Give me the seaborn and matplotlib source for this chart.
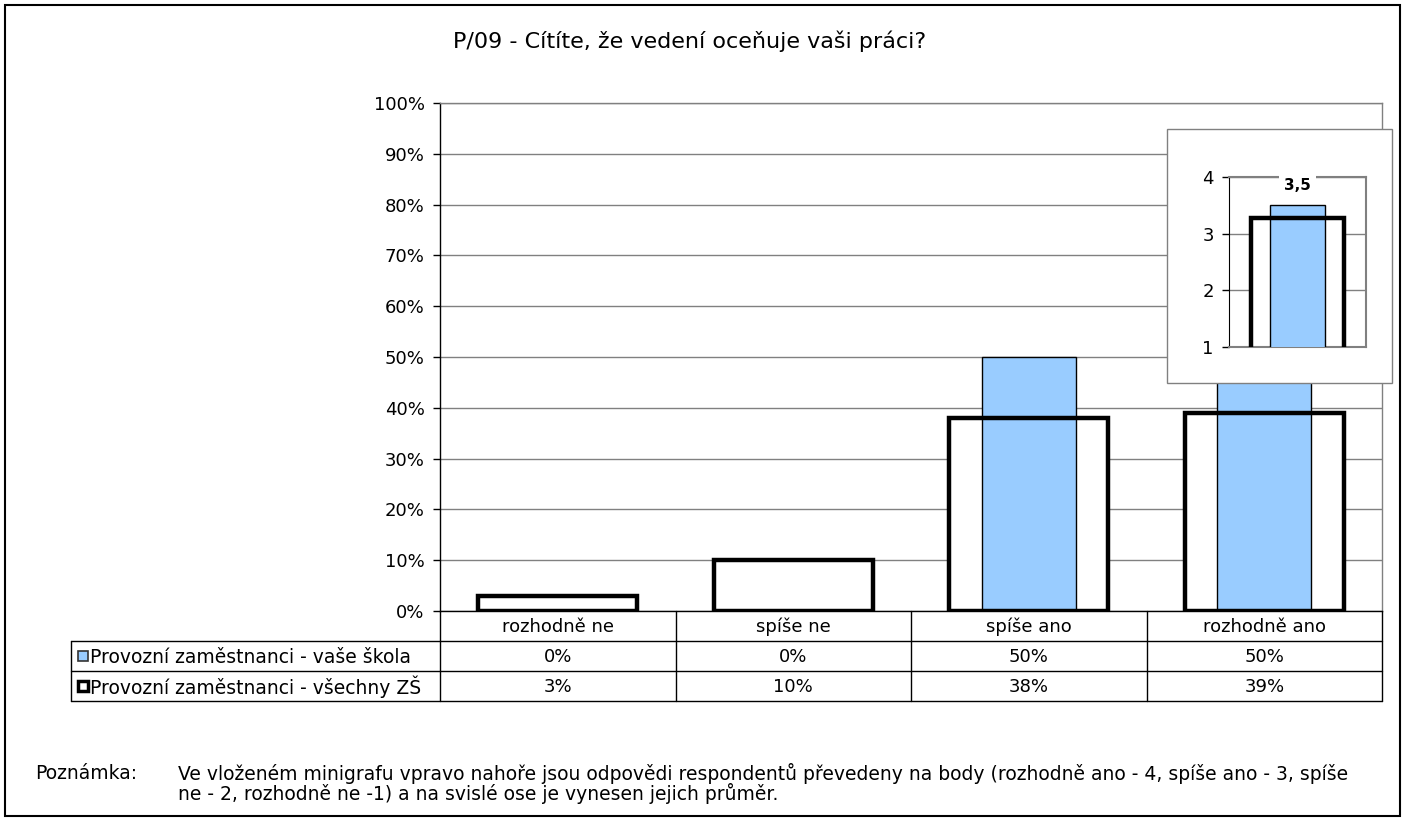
import matplotlib
matplotlib.use("Agg")
import matplotlib.pyplot as plt
import matplotlib.transforms as mtransforms
from matplotlib.patches import Rectangle
from matplotlib.lines import Line2D
import pandas as pd
import seaborn as sns

# data
categories = ["rozhodně ne", "spíše ne", "spíše ano", "rozhodně ano"]
school_pct = [0, 0, 50, 50]
all_pct = [3, 10, 38, 39]
series_names = ["Provozní zaměstnanci - vaše škola", "Provozní zaměstnanci - všechny ZŠ"]
school_mean = 3.5
all_mean = 3.28
title = "P/09 - Cítíte, že vedení oceňuje vaši práci?"
note_label = "Poznámka:"
note_text = ("Ve vloženém minigrafu vpravo nahoře jsou odpovědi respondentů převedeny na body (rozhodně ano - 4, spíše ano - 3, spíše\n"
             "ne - 2, rozhodně ne -1) a na svislé ose je vynesen jejich průměr.")

sns.set_style("white")
plt.rcParams["font.family"] = ["DejaVu Sans"]
plt.rcParams["text.color"] = "black"
plt.rcParams["ytick.color"] = "black"

W, H = 1405, 821
BLUE = "#99CCFF"
GRID = "#808080"
FS = 13


def fx(px):
    return px / W


def fy(px):
    return 1 - px / H


df = pd.DataFrame({"cat": categories, "school": school_pct, "all": all_pct})

fig = plt.figure(figsize=(W / 100, H / 100), dpi=100)
fig.patch.set_facecolor("white")

# outer frame
fig.add_artist(Rectangle((fx(5), fy(816)), fx(1395), 811 / H, transform=fig.transFigure,
                         fill=False, edgecolor="black", linewidth=1.5))

fig.text(fx(690), fy(41), title, ha="center", va="center", fontsize=16)

# main chart
ax = fig.add_axes([fx(440), fy(611), fx(942), (611 - 103) / H])
ax.set_axisbelow(True)
sns.barplot(data=df, x="cat", y="all", color="white", width=0.675, linewidth=0, ax=ax, zorder=2)
sns.barplot(data=df, x="cat", y="school", color=BLUE, width=0.4, edgecolor="black",
            linewidth=1.0, saturation=1, ax=ax, zorder=3)
sns.barplot(data=df, x="cat", y="all", fill=False, color="black", width=0.675,
            linewidth=3.2, ax=ax, zorder=4)
ax.set_ylim(0, 100)
ax.set_xlim(-0.5, len(categories) - 0.5)
ax.set_yticks(range(0, 101, 10))
ax.set_yticklabels([f"{v}%" for v in range(0, 101, 10)], fontsize=FS)
ax.yaxis.grid(True, color=GRID, linewidth=1)
ax.set_xticks([])
ax.set_xlabel("")
ax.set_ylabel("")
ax.tick_params(axis="y", left=True, length=5, width=1, color="black", pad=6)
for s in ["left", "bottom"]:
    ax.spines[s].set_color("black")
    ax.spines[s].set_linewidth(1)
for s in ["top", "right"]:
    ax.spines[s].set_color(GRID)
    ax.spines[s].set_linewidth(1)
ax.spines["bottom"].set_zorder(5)

# data table under the chart
tr = mtransforms.blended_transform_factory(ax.transData, fig.transFigure)
rows = [611, 641, 671, 701]
n = len(categories)
lw = 1
for y in rows[1:]:
    fig.add_artist(Line2D([fx(71), fx(1382)], [fy(y), fy(y)], transform=fig.transFigure,
                          color="black", linewidth=lw))
fig.add_artist(Line2D([fx(71), fx(71)], [fy(641), fy(701)], transform=fig.transFigure,
                      color="black", linewidth=lw))
for i in range(n + 1):
    fig.add_artist(Line2D([i - 0.5, i - 0.5], [fy(611), fy(701)], transform=tr,
                          color="black", linewidth=lw))
for i, c in enumerate(categories):
    fig.text(i, fy(627), c, transform=tr, ha="center", va="center", fontsize=FS)
    fig.text(i, fy(657), f"{school_pct[i]}%", transform=tr, ha="center", va="center", fontsize=FS)
    fig.text(i, fy(687), f"{all_pct[i]}%", transform=tr, ha="center", va="center", fontsize=FS)

# legend keys in table
fig.add_artist(Line2D([fx(83)], [fy(656)], transform=fig.transFigure, marker="s", markersize=7,
                      markerfacecolor=BLUE, markeredgecolor="#333333", markeredgewidth=1.2))
fig.add_artist(Line2D([fx(83)], [fy(686)], transform=fig.transFigure, marker="s", markersize=7,
                      markerfacecolor="white", markeredgecolor="black", markeredgewidth=2.5))
fig.text(fx(90), fy(657), series_names[0], ha="left", va="center", fontsize=13.5)
fig.text(fx(90), fy(687), series_names[1], ha="left", va="center", fontsize=13.5)

# inset mini chart
fig.add_artist(Rectangle((fx(1167), fy(383)), fx(225), (383 - 129) / H, transform=fig.transFigure,
                         facecolor="white", edgecolor=GRID, linewidth=1, zorder=10))
iax = fig.add_axes([fx(1229), fy(347), fx(137), (347 - 177) / H], zorder=11)
iax.patch.set_alpha(0)
mini = pd.DataFrame({"cat": ["m"], "school": [school_mean], "all": [all_mean]})
sns.barplot(data=mini, x="cat", y="all", color="white", width=0.686, linewidth=0, ax=iax, zorder=2)
sns.barplot(data=mini, x="cat", y="school", color=BLUE, width=0.40, edgecolor="black",
            linewidth=1.0, saturation=1, ax=iax, zorder=3)
sns.barplot(data=mini, x="cat", y="all", fill=False, color="black", width=0.686,
            linewidth=3.2, ax=iax, zorder=4)
iax.set_ylim(1, 4)
iax.set_xlim(-0.5, 0.5)
iax.set_yticks([1, 2, 3, 4])
iax.set_yticklabels(["1", "2", "3", "4"], fontsize=FS)
iax.set_axisbelow(True)
iax.yaxis.grid(True, color=GRID, linewidth=1)
iax.set_xticks([])
iax.set_xlabel("")
iax.set_ylabel("")
iax.tick_params(axis="y", left=True, length=5, width=1, color="black", pad=6)
iax.spines["left"].set_color("black")
for s in ["top", "right", "bottom"]:
    iax.spines[s].set_color(GRID)
    iax.spines[s].set_linewidth(1.5)
# mean label sits just under the top frame line, breaking it
iax.annotate(f"{school_mean:.1f}".replace(".", ","), xy=(0, 4), xytext=(0, -6),
             textcoords="offset points", ha="center", va="center",
             fontsize=11, fontweight="bold", zorder=6,
             bbox=dict(facecolor="white", edgecolor="none", pad=4))

# note
fig.text(fx(35), fy(773), note_label, ha="left", va="center", fontsize=13.5)
fig.text(fx(178), fy(763), note_text, ha="left", va="top", fontsize=13.5, linespacing=0.95)

fig.savefig("out.png", dpi=100)
